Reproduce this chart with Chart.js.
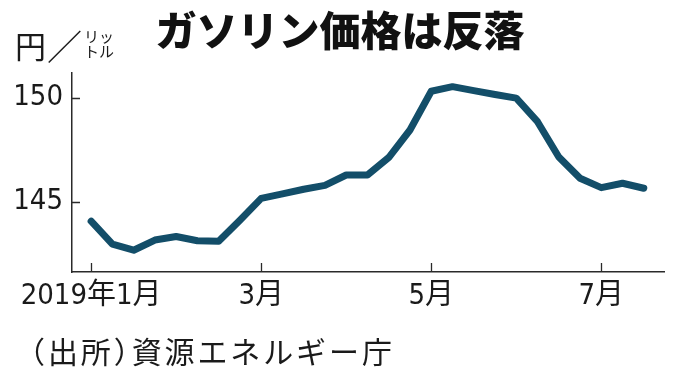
<!DOCTYPE html>
<html><head><meta charset="utf-8">
<script src="https://cdn.jsdelivr.net/npm/chart.js@4/dist/chart.umd.min.js"></script>
<style>
html,body{margin:0;padding:0;background:#fff;}
#wrap{position:relative;width:680px;height:383px;overflow:hidden;font-family:"Noto Sans CJK JP",sans-serif;color:#1a1a1a;background:#fff;}
canvas{position:absolute;left:0;top:0;}
.title{position:absolute;left:0;width:680px;top:8px;text-align:center;font-size:41px;line-height:41px;font-weight:900;color:#111;white-space:nowrap;}
.unit{position:absolute;left:15px;top:29px;font-size:31px;line-height:31px;white-space:nowrap;}
.slash{position:absolute;left:47px;top:27px;font-size:35px;line-height:35px;}
.small{position:absolute;left:84px;font-size:15px;line-height:15px;white-space:nowrap;}
.src{position:absolute;left:30px;top:335px;font-size:30px;line-height:30px;white-space:nowrap;letter-spacing:2.9px;}
.src .p{font-feature-settings:"halt";}
</style></head>
<body>
<div id="wrap">
<canvas id="c" width="680" height="383"></canvas>
<div class="title">ガソリン価格は反落</div>
<div class="unit">円</div>
<div class="slash">／</div>
<div class="small" style="top:28px">リッ</div>
<div class="small" style="top:43px">トル</div>
<div class="src"><span class="p">（</span>出所<span class="p">）</span>資源エネルギー庁</div>
</div>
<script>
// weekly index (0 = first survey week of Jan 2019)
const weekIndex = [0,1,2,3,4,5,6,7,8,9,10,11,12,13,14,15,16,17,18,19,20,21,22,23,24,25,26];
// regular gasoline retail price, yen per litre
const prices = [144.05,142.94,142.65,143.14,143.31,143.11,143.08,144.1,145.15,145.37,145.59,145.78,146.28,146.28,147.12,148.45,150.32,150.54,150.35,150.16,149.99,148.85,147.15,146.12,145.67,145.88,145.64];
// x-axis tick positions and labels
const xTickValues = [0,8,16,24];
const xTickLabels = ["2019年1月","3月","5月","7月"];
// y-axis ticks
const yTickValues = [145,150];

const FONT = '"Liberation Sans Narrow","DejaVu Sans Condensed","Noto Sans CJK JP",sans-serif';
const AXIS = '#2a2a2a';

const inwardTicks = {
  id:'inwardTicks',
  afterDatasetsDraw(chart){
    const {ctx, chartArea:a, scales:{x,y}} = chart;
    ctx.save();
    ctx.strokeStyle = AXIS; ctx.lineWidth = 1.3;
    ctx.beginPath();
    yTickValues.forEach(v=>{const py=Math.round(y.getPixelForValue(v))+0.5; ctx.moveTo(a.left,py); ctx.lineTo(a.left+8,py);});
    xTickValues.forEach(v=>{const px=Math.round(x.getPixelForValue(v))+0.5; ctx.moveTo(px,a.bottom); ctx.lineTo(px,a.bottom-9);});
    ctx.stroke();
    ctx.restore();
  }
};

new Chart(document.getElementById('c'),{
  type:'line',
  data:{datasets:[{
    data: weekIndex.map((w,i)=>({x:w,y:prices[i]})),
    borderColor:'#134e69', borderWidth:7, pointRadius:0, tension:0,
    borderJoinStyle:'round', borderCapStyle:'round', fill:false
  }]},
  options:{
    responsive:false, animation:false, devicePixelRatio:1,
    layout:{padding:{top:73,right:16,left:0,bottom:0}},
    plugins:{legend:{display:false},tooltip:{enabled:false},title:{display:false}},
    scales:{
      x:{type:'linear',min:-0.9,max:26.95,
        afterBuildTicks(s){s.ticks = xTickValues.map(v=>({value:v}));},
        afterFit(s){s.height=111;},
        grid:{display:true,drawOnChartArea:false,drawTicks:false},
        border:{display:true,color:AXIS,width:1.5},
        ticks:{autoSkip:false,maxRotation:0,padding:7,color:'#1a1a1a',
          font:{family:FONT,size:29,lineHeight:1.2},
          callback(v){const i=xTickValues.indexOf(v);return i>=0?xTickLabels[i]:'';}}
      },
      y:{type:'linear',min:141.6,max:151.2,
        afterBuildTicks(s){s.ticks = yTickValues.map(v=>({value:v}));},
        afterFit(s){s.width=72;},
        grid:{display:true,drawOnChartArea:false,drawTicks:false},
        border:{display:true,color:AXIS,width:1.5},
        ticks:{padding:9,color:'#1a1a1a',font:{family:FONT,size:29}}
      }
    }
  },
  plugins:[inwardTicks]
});
</script>
</body></html>
